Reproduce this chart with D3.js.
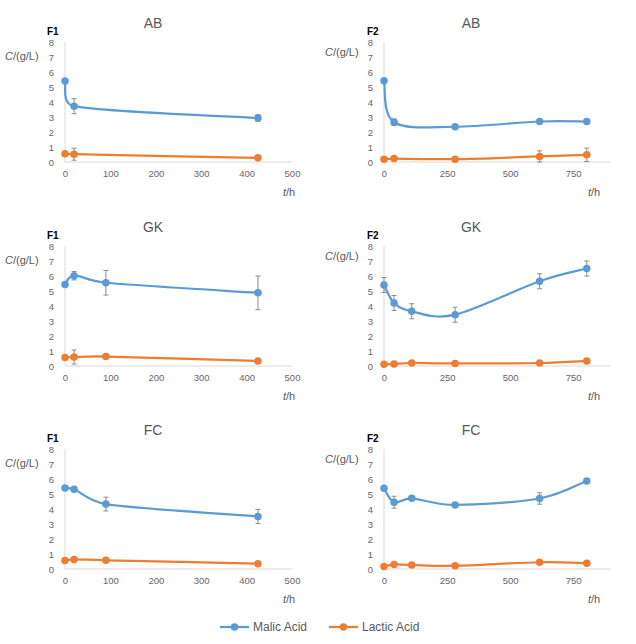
<!DOCTYPE html>
<html>
<head>
<meta charset="utf-8">
<script src="https://cdn.jsdelivr.net/npm/d3@7"></script>
<style>
  body { margin: 0; background: #fff; }
  svg { display: block; font-family: "Liberation Sans", Arial, sans-serif; }
  .axis path, .axis line { stroke: #d9d9d9; }
  .axis text { fill: #666; font-size: 9.5px; }
</style>
</head>
<body>
<div id="chart"></div>
<script>
// sampling times (h)
const timesF1   = [0, 20, 90, 425];
const timesF1AB = [0, 20, 425];
const timesF2   = [0, 40, 110, 282, 617, 804];
const timesF2AB = [0, 40, 282, 617, 804];

// AB
const abF1Malic      = [5.40, 3.72, 2.93];
const abF1MalicErr   = [0, 0.50, 0.22];
const abF1Lactic     = [0.55, 0.52, 0.28];
const abF1LacticErr  = [0, 0.40, 0];
const abF2Malic      = [5.42, 2.65, 2.35, 2.70, 2.70];
const abF2MalicErr   = [0, 0.22, 0.08, 0.05, 0.05];
const abF2Lactic     = [0.18, 0.23, 0.19, 0.37, 0.48];
const abF2LacticErr  = [0, 0.12, 0, 0.37, 0.45];

// GK
const gkF1Malic      = [5.44, 6.02, 5.55, 4.88];
const gkF1MalicErr   = [0, 0.28, 0.82, 1.12];
const gkF1Lactic     = [0.57, 0.60, 0.63, 0.33];
const gkF1LacticErr  = [0, 0.47, 0, 0];
const gkF2Malic      = [5.40, 4.20, 3.65, 3.42, 5.65, 6.50];
const gkF2MalicErr   = [0.50, 0.50, 0.50, 0.50, 0.50, 0.50];
const gkF2Lactic     = [0.12, 0.14, 0.20, 0.17, 0.20, 0.34];
const gkF2LacticErr  = [0, 0, 0, 0, 0, 0];

// FC
const fcF1Malic      = [5.40, 5.32, 4.33, 3.50];
const fcF1MalicErr   = [0, 0, 0.46, 0.47];
const fcF1Lactic     = [0.57, 0.64, 0.58, 0.35];
const fcF1LacticErr  = [0, 0, 0, 0];
const fcF2Malic      = [5.38, 4.45, 4.71, 4.27, 4.70, 5.87];
const fcF2MalicErr   = [0, 0.40, 0, 0.10, 0.38, 0];
const fcF2Lactic     = [0.16, 0.30, 0.27, 0.22, 0.45, 0.38];
const fcF2LacticErr  = [0, 0, 0, 0, 0, 0];

const yTicks      = [0, 1, 2, 3, 4, 5, 6, 7, 8];
const xTicksF1    = [0, 100, 200, 300, 400, 500];
const xTicksF2    = [0, 250, 500, 750];
const seriesNames = ["Malic Acid", "Lactic Acid"];

const MALIC = "#5b9bd5", LACTIC = "#ed7d31";

const panels = [
  { title: "AB", tag: "F1", col: 0, row: 0, t: timesF1AB, m: abF1Malic, me: abF1MalicErr, l: abF1Lactic, le: abF1LacticErr },
  { title: "AB", tag: "F2", col: 1, row: 0, t: timesF2AB, m: abF2Malic, me: abF2MalicErr, l: abF2Lactic, le: abF2LacticErr },
  { title: "GK", tag: "F1", col: 0, row: 1, t: timesF1, m: gkF1Malic, me: gkF1MalicErr, l: gkF1Lactic, le: gkF1LacticErr },
  { title: "GK", tag: "F2", col: 1, row: 1, t: timesF2, m: gkF2Malic, me: gkF2MalicErr, l: gkF2Lactic, le: gkF2LacticErr },
  { title: "FC", tag: "F1", col: 0, row: 2, t: timesF1, m: fcF1Malic, me: fcF1MalicErr, l: fcF1Lactic, le: fcF1LacticErr },
  { title: "FC", tag: "F2", col: 1, row: 2, t: timesF2, m: fcF2Malic, me: fcF2MalicErr, l: fcF2Lactic, le: fcF2LacticErr }
];

const width = 636, height = 644;
const rowTop = [42, 246, 449];   // y of the "8" tick per row
const plotH  = 120;

const svg = d3.select("#chart").append("svg")
  .attr("width", width)
  .attr("height", height);

// excel-like smoothed line: catmull-rom bezier, control offsets capped at half a segment
function curveExcel(context) {
  let pts = [];
  return {
    areaStart() {}, areaEnd() {},
    lineStart() { pts = []; },
    point(x, y) { pts.push([+x, +y]); },
    lineEnd() {
      const n = pts.length;
      if (!n) return;
      const dist = (a, b) => Math.hypot(b[0] - a[0], b[1] - a[1]);
      context.moveTo(pts[0][0], pts[0][1]);
      for (let i = 0; i < n - 1; i++) {
        const p0 = pts[Math.max(i - 1, 0)], p1 = pts[i], p2 = pts[i + 1], p3 = pts[Math.min(i + 2, n - 1)];
        const d12 = dist(p1, p2), d02 = dist(p0, p2), d13 = dist(p1, p3);
        const f1 = d02 / 6 < d12 / 2 ? 1 / 6 : d12 / (2 * d02);
        const f2 = d13 / 6 < d12 / 2 ? 1 / 6 : d12 / (2 * d13);
        context.bezierCurveTo(
          p1[0] + f1 * (p2[0] - p0[0]), p1[1] + f1 * (p2[1] - p0[1]),
          p2[0] - f2 * (p3[0] - p1[0]), p2[1] - f2 * (p3[1] - p1[1]),
          p2[0], p2[1]);
      }
    }
  };
}

const line = (x, y) => d3.line()
  .x(d => x(d.t))
  .y(d => y(d.v))
  .curve(curveExcel);

panels.forEach(p => {
  const left = p.col === 0;
  const top  = rowTop[p.row];
  const x = left
    ? d3.scaleLinear().domain([0, 500]).range([65, 292])
    : d3.scaleLinear().domain([0, 900]).range([384, 611]);
  const y = d3.scaleLinear().domain([0, 8]).range([top + plotH, top]);
  const g = svg.append("g");
  const cx = left ? 153 : 471;

  // axes
  g.append("g")
    .attr("class", "axis")
    .attr("transform", `translate(0,${top + plotH})`)
    .call(d3.axisBottom(x).tickValues(left ? xTicksF1 : xTicksF2).tickSize(0).tickPadding(8))
    .call(a => a.select(".domain").attr("d", `M${x.range()[0]},0H${x.range()[1]}`));

  g.append("g")
    .attr("class", "axis")
    .attr("transform", `translate(${x.range()[0]},0)`)
    .call(d3.axisLeft(y).tickValues(yTicks).tickSize(0).tickPadding(11))
    .call(a => a.select(".domain").attr("d", `M0,${y(0)}V${y(8)}`));

  // titles and labels
  g.append("text")
    .attr("x", cx).attr("y", top - 14)
    .attr("text-anchor", "middle")
    .attr("fill", "#595959")
    .attr("font-size", 14)
    .text(p.title);

  g.append("text")
    .attr("x", left ? 47 : 367).attr("y", top - 7)
    .attr("font-size", 10).attr("font-weight", "bold")
    .attr("fill", "#000")
    .text(p.tag);

  const yl = g.append("text")
    .attr("x", left ? 5 : 325).attr("y", top + (left ? 18 : 14))
    .attr("font-size", 11).attr("fill", "#595959");
  yl.append("tspan").attr("font-style", "italic").text("C");
  yl.append("tspan").text("/(g/L)");

  const xl = g.append("text")
    .attr("x", left ? 283 : 588).attr("y", top + plotH + 34)
    .attr("font-size", 11).attr("fill", "#595959");
  xl.append("tspan").attr("font-style", "italic").text("t");
  xl.append("tspan").text("/h");

  // series
  [[p.m, p.me, MALIC], [p.l, p.le, LACTIC]].forEach(([vals, errs, color]) => {
    const pts = p.t.map((t, i) => ({ t, v: vals[i], e: errs[i] }));

    g.append("path")
      .datum(pts)
      .attr("fill", "none")
      .attr("stroke", color)
      .attr("stroke-width", 2.25)
      .attr("d", line(x, y));

    const eb = g.append("g").selectAll("g")
      .data(pts.filter(d => d.e > 0))
      .join("g")
      .attr("stroke", "#8c8c8c")
      .attr("stroke-width", 1);
    eb.append("line")
      .attr("x1", d => x(d.t)).attr("x2", d => x(d.t))
      .attr("y1", d => y(d.v - d.e)).attr("y2", d => y(d.v + d.e));
    eb.append("line")
      .attr("x1", d => x(d.t) - 2.5).attr("x2", d => x(d.t) + 2.5)
      .attr("y1", d => y(d.v + d.e)).attr("y2", d => y(d.v + d.e));
    eb.append("line")
      .attr("x1", d => x(d.t) - 2.5).attr("x2", d => x(d.t) + 2.5)
      .attr("y1", d => y(d.v - d.e)).attr("y2", d => y(d.v - d.e));

    g.append("g").selectAll("circle")
      .data(pts)
      .join("circle")
      .attr("cx", d => x(d.t))
      .attr("cy", d => y(d.v))
      .attr("r", 3.75)
      .attr("fill", color);
  });
});

// legend
const legend = svg.append("g").attr("transform", "translate(0,627)");
const legendX = [220, 329];
seriesNames.forEach((name, i) => {
  const color = i === 0 ? MALIC : LACTIC;
  const lx = legendX[i];
  legend.append("line")
    .attr("x1", lx).attr("x2", lx + 29)
    .attr("stroke", color).attr("stroke-width", 2.25);
  legend.append("circle")
    .attr("cx", lx + 14.5).attr("r", 3.75).attr("fill", color);
  legend.append("text")
    .attr("x", lx + 33).attr("dy", "0.35em")
    .attr("font-size", 12).attr("fill", "#595959")
    .text(name);
});
</script>
</body>
</html>
